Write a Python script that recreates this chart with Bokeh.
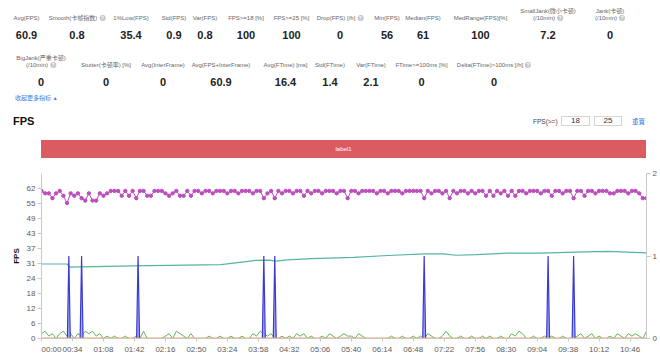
from bokeh.plotting import figure
from bokeh.models import Range1d, LinearAxis, FixedTicker, Div
from bokeh.layouts import column
from bokeh.embed import file_html
from bokeh.resources import INLINE

# ---------------- data ----------------
row1_labels = ["Avg(FPS)", "Smooth(卡帧指数)", "1%Low(FPS)", "Std(FPS)", "Var(FPS)", "FPS>=18 [%]",
               "FPS>=25 [%]", "Drop(FPS) [/h]", "Min(FPS)", "Median(FPS)", "MedRange(FPS)[%]",
               "SmallJank(微小卡顿)\n(/10min)", "Jank(卡顿)\n(/10min)"]
row1_values = ["60.9", "0.8", "35.4", "0.9", "0.8", "100", "100", "0", "56", "61", "100", "7.2", "0"]
row1_help = [False, True, False, False, False, False, False, True, False, False, False, True, True]

row2_labels = ["BigJank(严重卡顿)\n(/10min)", "Stutter(卡顿率) [%]", "Avg(InterFrame)", "Avg(FPS+InterFrame)",
               "Avg(FTime) [ms]", "Std(FTime)", "Var(FTime)", "FTime>=100ms [%]", "Delta(FTime)>100ms [/h]"]
row2_values = ["0", "0", "0", "60.9", "16.4", "1.4", "2.1", "0", "0"]
row2_help = [True, False, False, False, False, False, False, False, True]

x_tick_labels = ["00:00", "00:34", "01:08", "01:42", "02:16", "02:50", "03:24", "03:58", "04:32", "05:06",
                 "05:40", "06:14", "06:48", "07:22", "07:56", "08:30", "09:04", "09:38", "10:12", "10:46"]
y_tick_values = [0, 6.2, 12.4, 18.6, 24.8, 31, 37.2, 43.4, 49.6, 55.8, 62]
y_tick_labels = ["0", "6", "12", "18", "24", "31", "37", "43", "49", "55", "62"]
duration = 664          # seconds shown on the time axis
sample_step = 4         # seconds between samples of FPS / green series

fps = [61, 60, 60, 58, 60, 61, 59, 56, 60, 59,
       60, 58, 57, 60, 57, 57, 60, 59, 60, 61,
       61, 61, 59, 61, 59, 61, 58, 61, 61, 59,
       59, 61, 61, 61, 60, 59, 60, 61, 59, 59,
       61, 59, 61, 61, 60, 61, 61, 60, 61, 61,
       61, 60, 61, 61, 60, 61, 61, 61, 60, 61,
       61, 58, 60, 61, 58, 61, 60, 61, 61, 60,
       61, 61, 59, 61, 60, 61, 61, 60, 61, 61,
       61, 60, 61, 61, 58, 61, 61, 60, 61, 61,
       61, 61, 60, 61, 61, 60, 61, 61, 61, 60,
       61, 61, 61, 61, 61, 58, 61, 60, 61, 61,
       60, 61, 58, 61, 60, 61, 61, 60, 61, 60,
       61, 61, 59, 61, 59, 61, 60, 61, 59, 61,
       59, 61, 61, 60, 61, 61, 61, 60, 61, 61,
       59, 61, 61, 60, 61, 61, 58, 61, 61, 59,
       61, 61, 60, 61, 61, 61, 60, 60, 61, 61,
       61, 60, 61, 61, 60, 58, 58]

green = [2, 3, 1, 2, 0, 2, 3, 1, 2, 0,
         2, 1, 3, 2, 3, 1, 2, 0, 1, 0,
         1, 0, 0, 1, 0, 0, 1, 0, 3, 0,
         0, 0, 0, 0, 1, 2, 0, 3, 2, 1,
         0, 2, 0, 0, 0, 0, 1, 0, 0, 1,
         0, 0, 1, 0, 0, 1, 0, 0, 2, 1,
         3, 2, 1, 2, 0, 0, 1, 0, 1, 0,
         2, 1, 2, 0, 1, 0, 0, 1, 0, 2,
         1, 0, 1, 2, 1, 1, 0, 2, 1, 0,
         0, 0, 0, 0, 0, 0, 1, 0, 0, 1,
         0, 0, 1, 0, 1, 0, 2, 1, 0, 0,
         1, 3, 1, 0, 0, 1, 0, 0, 1, 0,
         0, 1, 0, 1, 0, 0, 1, 0, 0, 2,
         1, 3, 2, 0, 0, 1, 0, 0, 1, 0,
         1, 0, 0, 1, 0, 0, 0, 1, 2, 0,
         1, 2, 0, 1, 0, 0, 1, 0, 2, 1,
         0, 2, 1, 2, 1, 0, 3]

teal_t = [0, 28, 31, 100, 197, 220, 235, 250, 257, 270, 296, 343, 380, 420, 441, 455, 477, 512, 549, 585, 622, 664]
teal_v = [30.8, 30.8, 29.5, 30.0, 30.5, 31.6, 32.3, 32.4, 32.0, 32.5, 33.0, 33.5, 34.3, 35.0, 35.0, 34.4,
          34.7, 35.3, 35.3, 35.7, 36.0, 35.4]

jank_t = [30, 44, 106, 244, 256, 420, 556, 584]   # SmallJank events (value 1 on right axis)
bigjank_t = [0, 664]
bigjank_v = [0, 0]

# ---------------- header (HTML) ----------------
FONT = "'Liberation Sans','Noto Sans CJK SC',sans-serif"
row1_cx = [26.5, 77, 131, 174, 205, 246, 291.5, 340, 387, 423, 480.5, 548, 610]
row2_cx = [41, 106, 163, 221, 285.5, 330, 371, 421.5, 494]
HEAD_H = 165

def help_icon():
    return ('<span style="display:inline-block;width:6px;height:6px;border-radius:50%;background:#c4c4c4;'
            'color:#fff;font-size:5px;line-height:6px;text-align:center;vertical-align:middle;'
            'margin-left:2px;font-weight:bold;">?</span>')

def metric_row(labels, values, helps, cxs, label_bottom, value_cy):
    out = []
    for lab, val, hlp, cx in zip(labels, values, helps, cxs):
        txt = lab.replace("\n", "<br>") + (help_icon() if hlp else "")
        out.append(f'<div style="position:absolute;left:{cx}px;bottom:{HEAD_H - label_bottom}px;'
                   f'transform:translateX(-50%);white-space:nowrap;text-align:center;font-size:6px;'
                   f'line-height:7px;color:#666;">{txt}</div>')
        out.append(f'<div style="position:absolute;left:{cx}px;top:{value_cy}px;transform:translate(-50%,-50%);'
                   f'white-space:nowrap;font-size:11px;line-height:11px;font-weight:bold;color:#222;">{val}</div>')
    return "".join(out)

html = [f'<div style="position:relative;width:660px;height:{HEAD_H}px;font-family:{FONT};background:#fff;">']
html.append(metric_row(row1_labels, row1_values, row1_help, row1_cx, 22, 35))
html.append(metric_row(row2_labels, row2_values, row2_help, row2_cx, 68.5, 82))
html.append('<div style="position:absolute;left:15px;top:98px;transform:translateY(-50%);font-size:6px;'
            'color:#3a7be0;white-space:nowrap;">收起更多指标 <span style="font-size:5px;">▲</span></div>')
html.append('<div style="position:absolute;left:13px;top:121.5px;transform:translateY(-50%);font-size:11px;'
            'font-weight:bold;color:#111;">FPS</div>')
html.append('<div style="position:absolute;left:533px;top:121.5px;transform:translateY(-50%);font-size:6.5px;'
            'color:#444;white-space:nowrap;">FPS(&gt;=)</div>')
for left, w, v in [(561, 29, "18"), (594, 28, "25")]:
    html.append(f'<div style="position:absolute;left:{left}px;top:116px;width:{w}px;height:10px;box-sizing:border-box;'
                f'border:1px solid #d4d4d4;font-size:8px;line-height:8px;text-align:center;color:#333;">{v}</div>')
html.append('<div style="position:absolute;left:632px;top:121.5px;transform:translateY(-50%);font-size:6.5px;'
            'color:#2f6fe0;white-space:nowrap;">重置</div>')
html.append('<div style="position:absolute;left:41px;top:139.5px;width:605px;height:18px;background:#db5b63;'
            'color:#fff;font-size:6px;line-height:18px;text-align:center;">label1</div>')
html.append('</div>')
header = Div(text="".join(html), width=660, height=HEAD_H, margin=0)

# ---------------- chart ----------------
sample_t = [i * sample_step for i in range(len(fps))]
x_ticks = [int(s[:2]) * 60 + int(s[3:]) for s in x_tick_labels]

p = figure(width=660, height=357 - HEAD_H, x_range=Range1d(0, duration), y_range=Range1d(0, 68.2),
           output_backend="svg", toolbar_location=None, min_border_left=41, min_border_right=14,
           min_border_top=8, min_border_bottom=19, margin=0)
p.outline_line_color = None
p.xgrid.visible = False
p.ygrid.visible = False
p.extra_y_ranges = {"right": Range1d(0, 2)}

AX_COLOR = "#c8c8c8"
LBL_COLOR = "#5a5a5a"

yax = p.yaxis[0]
yax.ticker = FixedTicker(ticks=y_tick_values)
yax.major_label_overrides = {v: l for v, l in zip(y_tick_values, y_tick_labels)}
yax.axis_label = "FPS"
yax.axis_label_text_font = "Liberation Sans"
yax.axis_label_text_font_size = "8px"
yax.axis_label_text_font_style = "bold"
yax.axis_label_text_color = "#111"
yax.axis_label_standoff = 3

# first time label is drawn left-aligned at the axis start: pad it on the left with
# figure/punctuation spaces of the same width as the label so its visible part starts at the tick
LEFT_PAD = "\u2007\u2007\u2007\u2007\u2008"
xax = p.xaxis[0]
xax.ticker = FixedTicker(ticks=x_ticks)
xax.major_label_overrides = {t: (l if t != 0 else LEFT_PAD + l) for t, l in zip(x_ticks, x_tick_labels)}

rax = LinearAxis(y_range_name="right", ticker=FixedTicker(ticks=[0, 1, 2]))
p.add_layout(rax, "right")

for ax in [yax, xax, rax]:
    ax.axis_line_color = AX_COLOR
    ax.major_tick_line_color = AX_COLOR
    ax.minor_tick_line_color = None
    ax.major_tick_in = 0
    ax.major_tick_out = 4
    ax.major_label_text_font = "Liberation Sans"
    ax.major_label_text_font_size = "8px"
    ax.major_label_text_color = LBL_COLOR
    ax.major_label_standoff = 2
xax.major_tick_out = 3
xax.major_label_standoff = 3

# teal trend line
p.line(teal_t, teal_v, line_color="#55b4a2", line_width=1.2)

# green small series
p.line(sample_t, green, line_color="#62b35a", line_width=1)

# SmallJank spikes on right axis
jx, jy = [0], [0]
for t in jank_t:
    jx += [t - 1.6, t, t + 1.6]
    jy += [0, 1, 0]
jx.append(duration)
jy.append(0)
p.varea(x=jx, y1=[0] * len(jx), y2=jy, fill_color="#9d9df2", fill_alpha=0.9, y_range_name="right")
p.line(jx, jy, line_color="#3a3ad4", line_width=1.2, y_range_name="right")

# BigJank zero line
p.line(bigjank_t, bigjank_v, line_color="#e5a064", line_width=2)

# FPS line with markers
p.line(sample_t, fps, line_color="#bb4dbd", line_width=1)
p.scatter(sample_t, fps, size=3.4, marker="circle", fill_color="#bb4dbd", line_color="#bb4dbd")

layout = column(header, p, spacing=0, margin=0)
open("out.html", "w").write(file_html(layout, INLINE))
